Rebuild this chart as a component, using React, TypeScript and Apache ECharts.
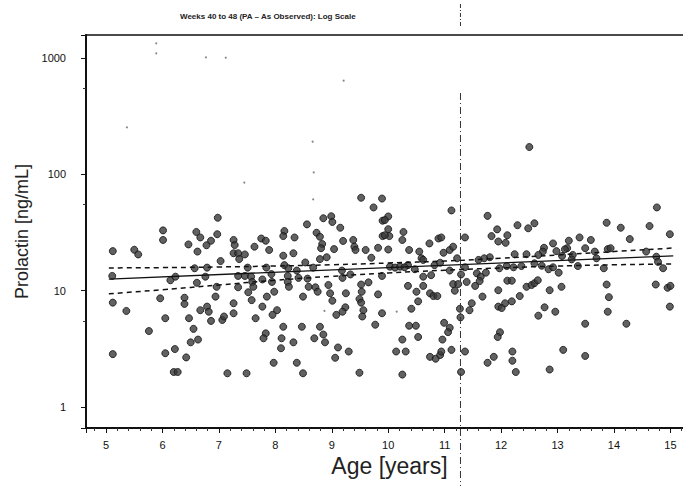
import React, { useEffect, useRef } from "react";
import * as echarts from "echarts";

// Age (years) of each subject
const ages: number[] = [
  6.98, 6.01, 6.01, 5.12, 5.5, 5.57, 6.6, 6.67, 6.97, 6.46, 6.62, 6.78, 6.86, 7.03, 7.26, 7.26, 5.11, 6.14, 6.23, 6.57,
  6.79, 6.76, 6.61, 6.96, 5.12, 5.36, 5.96, 6.39, 6.39, 6.94, 6.67, 6.79, 6.82, 7.26, 7.26, 6.05, 6.47, 6.86, 7.06, 7.09,
  5.76, 6.55, 6.63, 6.5, 5.12, 6.05, 6.22, 6.42, 6.2, 6.27, 7.15,
  9.52, 9.89, 9.74, 8.56, 8.85, 8.99, 9.01, 9.15, 9.9, 8.16, 8.14, 8.34, 7.75, 7.83, 8.73, 8.79, 9.2, 9.38, 9.9, 7.28,
  7.63, 7.89, 8.83, 8.81, 9.04, 9.4, 9.42, 9.6, 9.82, 7.34, 7.36, 7.46, 8.14, 8.32, 8.91, 8.79, 9.7, 8.53, 8.67, 8.16,
  8.23, 8.38, 7.84, 7.51, 9.18, 7.34, 7.46, 7.57, 7.59, 7.61, 7.77, 7.93, 7.94, 8.22, 8.22, 8.24, 8.41, 8.57, 9.19, 9.33,
  9.89, 7.34, 7.52, 7.98, 8.59, 8.71, 8.75, 8.94, 8.97, 9.01, 8.49, 9.25, 9.52, 9.53, 9.65, 9.49, 9.52, 9.82, 7.58, 7.85,
  7.77, 8.03, 7.95, 7.65, 9.24, 9.19, 9.08, 9.56, 9.54, 9.89, 9.77, 8.14, 8.47, 8.79, 7.83, 7.79, 8.11, 8.32, 8.1, 8.69,
  8.85, 8.88, 9.11, 9.3, 9.06, 7.97, 8.38, 7.49, 8.49, 9.49,
  11.12, 11.76, 12.29, 12.48, 10.0, 9.94, 10.0, 10.02, 9.94, 10.27, 10.25, 10.0, 10.37, 10.55, 10.59, 10.62, 10.73, 10.89, 10.94, 10.98,
  11.09, 11.15, 11.36, 10.82, 10.92, 11.22, 11.36, 11.6, 11.8, 11.7, 11.83, 11.93, 11.95, 12.11, 12.08, 11.97, 12.1, 12.24, 12.22, 12.36,
  12.45, 10.03, 10.12, 10.21, 10.35, 10.29, 10.47, 11.09, 10.62, 10.76, 11.29, 10.35, 10.5, 10.62, 10.74, 10.8, 10.87, 11.15, 11.24, 11.18,
  11.39, 11.54, 11.57, 11.64, 11.62, 11.73, 11.67, 11.95, 12.11, 12.19, 12.33, 12.45, 12.54, 10.41, 10.53, 11.27, 11.44, 11.48, 11.28, 11.95,
  12.01, 12.07, 12.19, 10.37, 10.49, 10.99, 11.09, 11.06, 10.53, 10.25, 10.96, 11.98, 11.94, 10.14, 10.31, 10.74, 10.84, 10.92, 10.94, 11.12,
  11.36, 12.2, 12.2, 11.76, 11.87, 10.25, 11.29, 12.26,
  14.76, 13.87, 14.12, 14.63, 14.99, 14.28, 12.59, 13.39, 13.59, 12.92, 13.2, 13.17, 13.13, 12.76, 12.74, 12.98, 12.66, 13.08, 13.27, 13.25,
  13.49, 13.66, 13.89, 13.94, 14.57, 14.75, 14.78, 13.69, 12.59, 12.72, 12.84, 12.92, 13.02, 13.36, 13.82, 14.87, 12.59, 12.65, 12.86, 13.07,
  13.87, 14.74, 14.95, 15.0, 13.91, 12.77, 12.96, 12.66, 13.89, 14.99, 13.49, 14.22, 13.1, 13.49, 12.86, 12.5,
];

// Prolactin (ng/mL), paired with ages
const prolactin: number[] = [
  42.4, 33, 27.3, 21.9, 22.5, 20.5, 32, 28.7, 30.6, 25, 21.7, 24.6, 26.9, 18, 27.3, 21, 13.4, 12.3, 13.2, 15.6,
  15.8, 13.2, 11.7, 10.8, 7.9, 6.7, 8.6, 8.7, 7.7, 8.9, 6.8, 7.3, 6.6, 7.8, 6.4, 5.8, 5.8, 5.5, 5.6, 6.0,
  4.5, 4.7, 3.8, 3.6, 2.85, 2.9, 3.15, 2.67, 2.0, 2.0, 1.95,
  63, 62, 52, 37.2, 42, 43.7, 39, 34.8, 40, 32.6, 29.5, 28.7, 28.1, 26.9, 31.5, 29.1, 26.8, 27.3, 29.5, 24.7,
  23.9, 22.4, 25.2, 23.2, 22.8, 23.9, 22.4, 22.4, 23.4, 21, 18.7, 20.5, 20, 21, 19.4, 18.7, 19.2, 17.5, 15.8, 16.6,
  15.6, 14.9, 15.8, 15.8, 14.9, 13.4, 13.4, 13.2, 11.9, 10.8, 12.5, 13.9, 11.9, 13.4, 11.9, 10.8, 12.9, 12.7, 12.9, 13.8,
  13.4, 10.7, 9.7, 9.8, 10.8, 10.7, 9.8, 11.2, 9.5, 8.2, 8.9, 9.5, 11.3, 9.8, 11.8, 8.5, 7.9, 9.3, 8.3, 8.9,
  7.3, 6.8, 6.2, 5.8, 7.2, 6.6, 6.2, 6.8, 6.0, 6.4, 5.1, 4.9, 4.9, 4.9, 4.3, 3.9, 3.9, 3.6, 3.2, 3.9,
  4.2, 3.6, 3.25, 3.0, 2.65, 2.4, 2.4, 1.95, 1.95, 1.97,
  49, 44, 36.6, 34.4, 43.5, 40.5, 33.8, 29.5, 30, 32, 27.3, 22.6, 22.4, 21.7, 19.0, 18.4, 25.5, 28.1, 28.7, 21.2,
  22.4, 23.9, 28.7, 16.6, 17.4, 19.0, 15.9, 18.4, 19.4, 19.0, 29.5, 33.7, 26.5, 30, 25.8, 15.6, 16.3, 20.6, 15.9, 16.3,
  20.6, 16.1, 15.8, 16.1, 16.6, 15.9, 15.3, 14.9, 13.2, 13.6, 13.8, 11.0, 9.8, 11.0, 9.5, 9.0, 9.0, 11.4, 11.4, 10.0,
  11.9, 11.0, 14.1, 13.2, 12.1, 14.3, 8.9, 10.1, 12.2, 12.2, 9.0, 10.8, 11.2, 7.0, 8.1, 7.0, 6.8, 7.8, 5.9, 7.3,
  7.1, 7.8, 8.1, 5.0, 5.0, 5.3, 4.8, 4.4, 4.0, 3.8, 3.8, 4.4, 4.0, 3.0, 3.0, 2.7, 2.6, 2.8, 3.0, 3.1,
  3.0, 3.0, 2.5, 2.4, 2.7, 1.9, 2.0, 2.0,
  52, 38.4, 34.8, 36, 30.6, 27.8, 38, 28.7, 27.3, 25.5, 26.9, 23.2, 22.7, 23.4, 21.7, 21.9, 20.3, 19.9, 20.3, 18.6,
  23.2, 21.7, 22.8, 23.2, 21.7, 19.6, 17.7, 19.0, 17.2, 16.4, 15.3, 15.9, 14.3, 16.3, 15.6, 15.6, 11.6, 12.3, 10.1, 10.8,
  11.3, 11.3, 10.6, 11.0, 8.8, 7.2, 6.6, 6.1, 6.6, 7.3, 5.2, 5.2, 3.1, 2.75, 2.1, 172,
];

// Faint specks (small marks)
const faintAges: number[] = [5.89, 5.89, 6.77, 7.12, 9.21, 5.37, 8.66, 8.68, 7.45, 8.67, 8.87, 10.15];
const faintValues: number[] = [1340, 1100, 1016, 1007, 640, 254, 191, 104, 85, 61, 6.7, 6.6];

// Regression fit and confidence band
const fitAges: number[] = [5.05, 15.05];
const fitValues: number[] = [12.6, 19.9];
const ciAges: number[] = [5.05, 6, 7, 8, 9, 10, 11, 12, 13, 14, 15.05];
const ciUpper: number[] = [15.7, 15.8, 16.0, 16.3, 16.7, 17.3, 18.0, 19.0, 20.3, 21.7, 23.3];
const ciLower: number[] = [9.4, 10.2, 11.2, 12.3, 13.3, 14.2, 15.0, 15.7, 16.3, 16.7, 17.0];

const refAge = 11.28;
const yTickValues: number[] = [1, 10, 100, 1000];
const xTickValues: number[] = [5, 6, 7, 8, 9, 10, 11, 12, 13, 14, 15];

const FONT = "'Liberation Sans', Arial, sans-serif";

export default function App() {
  const ref = useRef<HTMLDivElement>(null);
  useEffect(() => {
    if (!ref.current) return;
    const chart = echarts.init(ref.current, null, { renderer: "svg" });
    const pts = ages.map((a, i) => [a, prolactin[i]]);
    const faint = faintAges.map((a, i) => [a, faintValues[i]]);
    const fit = fitAges.map((a, i) => [a, fitValues[i]]);
    const up = ciAges.map((a, i) => [a, ciUpper[i]]);
    const lo = ciAges.map((a, i) => [a, ciLower[i]]);
    const option: any = {
      animation: false,
      backgroundColor: "#fff",
      textStyle: { fontFamily: FONT },
      title: {
        text: "Weeks 40 to 48 (PA – As Observed): Log Scale",
        left: 175,
        top: 7,
        textStyle: { fontSize: 8, fontWeight: "bold", color: "#222", fontFamily: FONT },
      },
      grid: {
        left: 86,
        top: 35,
        width: 607,
        height: 393,
        show: true,
        borderColor: "#111",
        borderWidth: 1.5,
      },
      xAxis: {
        type: "value",
        min: 4.645,
        max: 15.4,
        splitNumber: 10,
        axisLine: { lineStyle: { color: "#111", width: 2 } },
        axisTick: { show: true, length: 5, lineStyle: { color: "#111" } },
        minorTick: { show: true, splitNumber: 5, length: 3, lineStyle: { color: "#333" } },
        axisLabel: {
          fontSize: 11,
          color: "#111",
          margin: 11,
          fontFamily: FONT,
          formatter: (v: number) => {
            const r = Math.round(v);
            return Math.abs(v - r) < 1e-6 && xTickValues.indexOf(r) >= 0 ? String(r) : "";
          },
        },
        splitLine: { show: false },
        name: "Age [years]",
        nameLocation: "middle",
        nameGap: 25,
        nameTextStyle: { fontSize: 23, color: "#222", fontFamily: FONT },
      },
      yAxis: {
        type: "log",
        logBase: 10,
        min: 0.66,
        max: 1580,
        axisLine: { show: true, lineStyle: { color: "#111", width: 2 } },
        axisTick: { show: true, length: 5, lineStyle: { color: "#111" } },
        minorTick: { show: true, splitNumber: 2, length: 3, lineStyle: { color: "#333" } },
        axisLabel: {
          fontSize: 11,
          color: "#111",
          margin: 20,
          fontFamily: FONT,
          formatter: (v: number) => {
            for (const t of yTickValues) {
              if (Math.abs(v - t) / t < 1e-6) return String(t);
            }
            return "";
          },
        },
        splitLine: { show: false },
        name: "Prolactin [ng/mL]",
        nameLocation: "middle",
        nameGap: 51,
        nameTextStyle: { fontSize: 18, color: "#222", fontFamily: FONT },
      },
      series: [
        {
          type: "scatter",
          data: pts,
          symbol: "circle",
          symbolSize: 7,
          itemStyle: { color: "#3a3a3a", borderColor: "#111", borderWidth: 1 },
          z: 3,
        },
        {
          type: "scatter",
          data: faint,
          symbol: "circle",
          symbolSize: 2,
          itemStyle: { color: "#666" },
          z: 3,
        },
        {
          type: "line",
          data: fit,
          showSymbol: false,
          symbol: "none",
          lineStyle: { color: "#111", width: 1.3, type: "solid" },
          z: 4,
        },
        {
          type: "line",
          data: up,
          showSymbol: false,
          symbol: "none",
          smooth: true,
          lineStyle: { color: "#111", width: 1.5, type: [5, 4] },
          z: 4,
        },
        {
          type: "line",
          data: lo,
          showSymbol: false,
          symbol: "none",
          smooth: true,
          lineStyle: { color: "#111", width: 1.5, type: [5, 4] },
          z: 4,
        },
      ],
    };
    chart.setOption(option);
    const px = chart.convertToPixel({ xAxisIndex: 0 }, refAge) as number;
    chart.setOption({
      graphic: [
        {
          type: "line",
          shape: { x1: px, y1: 4, x2: px, y2: 28 },
          style: { stroke: "#333", lineWidth: 1, lineDash: [4, 2, 1, 2] },
          z: 10,
        },
        {
          type: "line",
          shape: { x1: px, y1: 93, x2: px, y2: 486 },
          style: { stroke: "#333", lineWidth: 1, lineDash: [7, 3, 1, 3] },
          z: 10,
        },
      ],
    });
    return () => chart.dispose();
  }, []);
  return (
    <div
      ref={ref}
      style={{ position: "fixed", left: 0, top: 0, width: 720, height: 489, background: "#fff" }}
    />
  );
}
